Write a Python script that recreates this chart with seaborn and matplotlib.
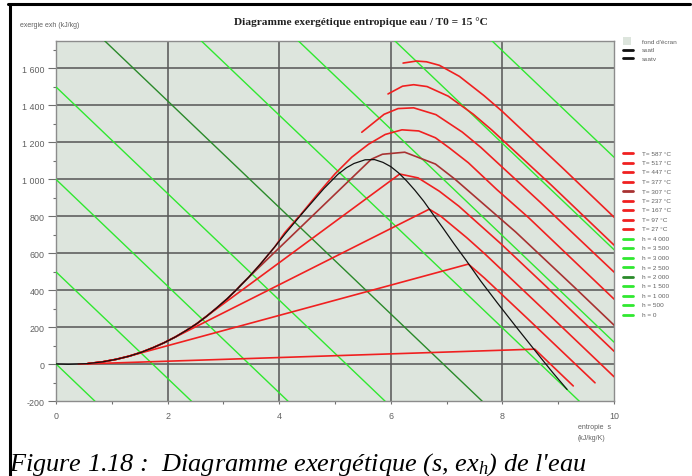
import matplotlib
matplotlib.use("Agg")
import matplotlib.pyplot as plt
import seaborn as sns
import pandas as pd
from matplotlib.lines import Line2D
from matplotlib.patches import Rectangle

sns.set_theme(style="white")
plt.rcParams['font.family'] = ['Liberation Sans', 'DejaVu Sans']
plt.rcParams['mathtext.fontset'] = 'custom'
plt.rcParams['mathtext.it'] = 'Liberation Serif:italic'
plt.rcParams['mathtext.rm'] = 'Liberation Serif:italic'

# ---- saturation curve (s in kJ/kg/K, exergy in kJ/kg) ----
sat_liq_s = [0.00, 0.22, 0.57, 0.83, 1.08, 1.31, 1.53, 1.74, 1.94, 2.14, 2.33,
             2.52, 2.70, 2.88, 3.07, 3.25, 3.45, 3.66, 3.92, 4.11, 4.41]
sat_liq_ex = [2, 0, 4, 13, 27, 44, 65, 90, 117, 148, 182,
              219, 260, 305, 355, 408, 470, 541, 635, 707, 815]
sat_vap_s = [4.41, 4.80, 5.05, 5.21, 5.34, 5.54, 5.71, 5.86, 6.00, 6.14, 6.28,
             6.43, 6.59, 6.75, 6.93, 7.13, 7.36, 7.61, 7.91, 8.26, 8.67, 8.90, 9.16]
sat_vap_ex = [815, 950, 1027, 1064, 1086, 1106, 1107, 1092, 1069, 1035, 993,
              942, 882, 814, 739, 653, 558, 451, 332, 197, 42, -44, -136]

# ---- isotherms ----
iso_labels = ["T= 587 °C", "T= 517 °C", "T= 447 °C", "T= 377 °C", "T= 307 °C",
              "T= 237 °C", "T= 167 °C", "T= 97 °C", "T= 27 °C"]
iso_s = {
    "T= 587 °C": [6.22, 6.46, 6.64, 6.87, 7.23, 7.67, 8.00, 9.06, 10.0],
    "T= 517 °C": [5.95, 6.21, 6.41, 6.65, 7.03, 7.48, 7.81, 8.88, 10.0],
    "T= 447 °C": [5.48, 5.88, 6.13, 6.41, 6.81, 7.28, 7.61, 8.68, 10.0],
    "T= 377 °C": [4.10, 4.40, 4.70, 5.00, 5.30, 5.60, 5.90, 6.20, 6.50, 6.80,
                  7.05, 7.39, 7.90, 8.47, 9.53, 10.0],
    "T= 307 °C": [3.32, 5.65, 5.85, 6.25, 6.80, 7.15, 8.24, 9.30, 10.0],
    "T= 237 °C": [2.67, 6.16, 6.49, 6.87, 7.22, 7.98, 9.04, 10.0],
    "T= 167 °C": [2.01, 6.69, 6.90, 7.36, 7.69, 8.75, 10.0],
    "T= 97 °C": [1.27, 7.39, 7.68, 8.43, 9.66],
    "T= 27 °C": [0.40, 8.58, 9.27],
}
iso_ex = {
    "T= 587 °C": [1629, 1640, 1636, 1617, 1557, 1453, 1367, 1067, 796],
    "T= 517 °C": [1462, 1504, 1512, 1502, 1450, 1352, 1267, 968, 645],
    "T= 447 °C": [1255, 1352, 1383, 1387, 1350, 1256, 1174, 876, 499],
    "T= 377 °C": [712, 815, 925, 1030, 1120, 1190, 1243, 1268, 1262, 1225,
                  1170, 1090, 945, 793, 488, 353],
    "T= 307 °C": [432, 1109, 1136, 1147, 1083, 1001, 715, 414, 212],
    "T= 237 °C": [254, 1029, 1008, 936, 855, 650, 348, 71],
    "T= 167 °C": [128, 839, 800, 685, 596, 293, -67],
    "T= 97 °C": [41, 542, 466, 253, -100],
    "T= 27 °C": [1, 82, -117],
}
# isotherms that run up the saturated-liquid branch before their first point
iso_with_liquid = ["T= 377 °C", "T= 307 °C", "T= 237 °C", "T= 167 °C", "T= 97 °C"]
liquid_start_s = 0.40

# ---- isenthalps (end points) ----
h_labels = ["h = 4 000", "h = 3 500", "h = 3 000", "h = 2 500", "h = 2 000",
            "h = 1 500", "h = 1 000", "h = 500", "h = 0"]
h_s = {
    "h = 4 000": [7.81, 10.0], "h = 3 500": [6.07, 10.0], "h = 3 000": [4.34, 10.0],
    "h = 2 500": [2.60, 9.38], "h = 2 000": [0.87, 7.64], "h = 1 500": [0.0, 5.90],
    "h = 1 000": [0.0, 4.16], "h = 500": [0.0, 2.43], "h = 0": [0.0, 0.70],
}
h_ex = {
    "h = 4 000": [1750, 1120], "h = 3 500": [1750, 620], "h = 3 000": [1750, 120],
    "h = 2 500": [1750, -200], "h = 2 000": [1750, -200], "h = 1 500": [1500, -200],
    "h = 1 000": [1000, -200], "h = 500": [500, -200], "h = 0": [2, -200],
}

RED = "#f02020"
BROWN = "#a83232"
GREEN = "#30e830"
DKGREEN = "#2a8a2a"
BG = "#dde5dd"
GRID = "#5a5a5a"
TXT = "#606060"

iso_pal = {k: (BROWN if k == "T= 307 °C" else RED) for k in iso_labels}
h_pal = {k: (DKGREEN if k == "h = 2 000" else GREEN) for k in h_labels}


def long_frame(labels, xs, ys):
    rows = []
    for k in labels:
        for i, (a, b) in enumerate(zip(xs[k], ys[k])):
            rows.append({"curve": k, "order": i, "s": a, "ex": b})
    return pd.DataFrame(rows)


# isotherm tables, with the liquid branch prepended where relevant
iso_full_s, iso_full_ex = {}, {}
for k in iso_labels:
    xs, ys = list(iso_s[k]), list(iso_ex[k])
    if k in iso_with_liquid:
        pre = [(a, b) for a, b in zip(sat_liq_s, sat_liq_ex)
               if liquid_start_s <= a < xs[0]]
        xs = [p[0] for p in pre] + xs
        ys = [p[1] for p in pre] + ys
    iso_full_s[k], iso_full_ex[k] = xs, ys

df_iso = long_frame(iso_labels, iso_full_s, iso_full_ex)
df_h = long_frame(h_labels, h_s, h_ex)
df_sat = long_frame(["ssatl", "ssatv"],
                    {"ssatl": sat_liq_s, "ssatv": sat_vap_s},
                    {"ssatl": sat_liq_ex, "ssatv": sat_vap_ex})

W, H = 692, 477
fig = plt.figure(figsize=(W / 100, H / 100), dpi=100)
fig.patch.set_facecolor("white")
ax = fig.add_axes([56 / W, 1 - 402.3 / H, (614 - 56) / W, (402.3 - 41.7) / H])
ax.set_facecolor(BG)

ax.set_xlim(0, 10)
ax.set_ylim(-200, 1750)
ax.set_xticks([0, 2, 4, 6, 8, 10])
ax.set_xticks([1, 3, 5, 7, 9], minor=True)
yt = list(range(-200, 1601, 200))
ax.set_yticks(yt)
ax.set_yticks(list(range(-100, 1701, 200)), minor=True)
ax.set_yticklabels([f"{v:,}".replace(",", " ") for v in yt])
ax.set_xticklabels(["0", "2", "4", "6", "8", "10"])

for v in yt[1:]:
    ax.axhline(v, color=GRID, lw=1.15, zorder=1)
for v in [2, 4, 6, 8]:
    ax.axvline(v, color=GRID, lw=1.15, zorder=1)

sns.lineplot(data=df_h, x="s", y="ex", hue="curve", palette=h_pal, units="curve",
             sort=False, estimator=None, legend=False, lw=1.0, ax=ax, zorder=3)
sns.lineplot(data=df_iso, x="s", y="ex", hue="curve", palette=iso_pal, units="curve",
             sort=False, estimator=None, legend=False, lw=1.2, ax=ax, zorder=4)
sns.lineplot(data=df_sat, x="s", y="ex", hue="curve",
             palette={"ssatl": "#111111", "ssatv": "#111111"}, units="curve",
             sort=False, estimator=None, legend=False, lw=0.9, ax=ax, zorder=5)

ax.set_xlabel("")
ax.set_ylabel("")
for sp in ax.spines.values():
    sp.set_color("#8c8c8c")
    sp.set_linewidth(1.0)
ax.tick_params(axis="y", which="major", length=5.8, width=0.8, color="#707070",
               labelsize=6.4, labelcolor=TXT, pad=2.5, left=True)
ax.tick_params(axis="y", which="minor", length=2.2, width=0.8, color="#707070", left=True)
ax.tick_params(axis="x", which="major", length=2.5, width=0.8, color="#707070",
               labelsize=6.4, labelcolor=TXT, pad=4.5, bottom=True)
ax.tick_params(axis="x", which="minor", length=2.2, width=0.8, color="#707070", bottom=True)

# texts
fig.text(361 / W, 1 - 22 / H, "Diagramme exergétique entropique eau / T0 = 15 °C",
         ha="center", va="center", fontsize=8.2, fontweight="bold",
         family="Liberation Serif", color="#202020")
fig.text(20 / W, 1 - 25.5 / H, "exergie exh (kJ/kg)", ha="left", va="center",
         fontsize=5.0, color=TXT)
fig.text(578 / W, 1 - 427.5 / H, "entropie  s", ha="left", va="center",
         fontsize=5.0, color=TXT)
fig.text(578 / W, 1 - 439 / H, "(kJ/kg/K)", ha="left", va="center",
         fontsize=5.0, color=TXT)
fig.text(9 / W, 1 - 471 / H,
         r"Figure 1.18 :  Diagramme exergétique (s, ex$_{h}$) de l'eau",
         ha="left", va="baseline", fontsize=18.9, style="italic",
         family="Liberation Serif", color="black")

# legend column
hx0, hx1, tx = 623 / W, 633 / W, 642 / W
fig.add_artist(Rectangle((623 / W, 1 - 46 / H), 8 / W, 8 / H, facecolor=BG,
                         edgecolor="none", transform=fig.transFigure))
fig.text(tx, 1 - 42 / H, "fond d'écran", fontsize=4.6, color=TXT, va="center")
for i, name in enumerate(["ssatl", "ssatv"]):
    y = 1 - (50.7 + 8.6 * i) / H
    fig.add_artist(Line2D([hx0, hx1], [y, y], color="#111111", lw=2.0,
                          transform=fig.transFigure))
    fig.text(tx, y, name, fontsize=4.6, color=TXT, va="center")
entries = [(k, iso_pal[k]) for k in iso_labels] + [(k, h_pal[k]) for k in h_labels]
for i, (name, col) in enumerate(entries):
    y = 1 - (154 + 9.5 * i) / H
    fig.add_artist(Line2D([hx0, hx1], [y, y], color=col, lw=2.0,
                          transform=fig.transFigure))
    fig.text(tx, y, name, fontsize=4.6, color=TXT, va="center")

# frame around the figure
fig.add_artist(Line2D([8 / W, 690 / W], [1 - 5 / H, 1 - 5 / H], color="black",
                      lw=2.2, transform=fig.transFigure))
fig.add_artist(Line2D([9.5 / W, 9.5 / W], [1 - 5 / H, 0], color="black",
                      lw=2.2, transform=fig.transFigure))

fig.savefig("out.png", dpi=100, facecolor="white")
